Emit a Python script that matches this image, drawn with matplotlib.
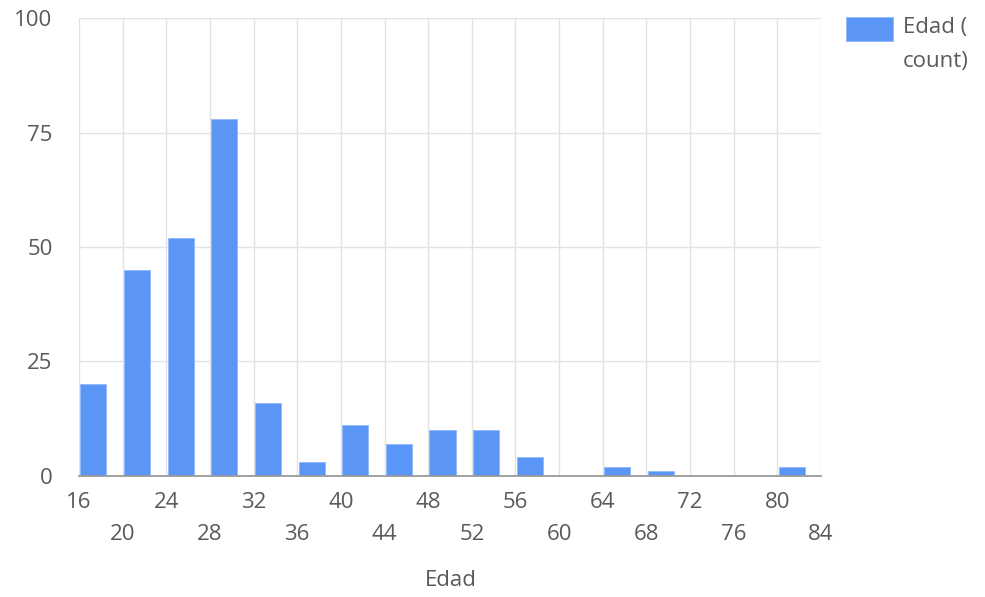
import matplotlib
matplotlib.use("Agg")
import matplotlib.pyplot as plt
import numpy as np

plt.rcParams['font.family'] = ['Open Sans', 'DejaVu Sans']

# Age histogram, bins 4 years wide
bin_edges = [16, 20, 24, 28, 32, 36, 40, 44, 48, 52, 56, 60, 64, 68, 72, 76, 80, 84]
counts    = [20, 45, 52, 78, 16, 3, 11, 7, 10, 10, 4, 0, 2, 1, 0, 0, 2]
y_ticks   = [0, 25, 50, 75, 100]
series_label = "Edad (\ncount)"
x_title = "Edad"

bar_color  = "#5b96f6"
grid_color = "#e2e2e2"
text_color = "#5a5a5a"
fs = 16

fig = plt.figure(figsize=(9.85, 5.97), dpi=100)
ax = fig.add_axes([0.0802, 0.2032, 0.7533, 0.7661])

left = np.array(bin_edges[:-1]) + 0.12
ax.bar(left, counts, width=2.4, align="edge", color=bar_color,
       edgecolor="#8fb8fa", linewidth=0.6, zorder=3)

ax.set_xlim(bin_edges[0], bin_edges[-1])
ax.set_ylim(0, 100)

# grid
ax.set_xticks(bin_edges)
ax.set_yticks(y_ticks)
ax.grid(True, color=grid_color, linewidth=1.0, zorder=0)
ax.tick_params(axis="both", length=0)
ax.set_xticklabels([])
ax.set_yticklabels([str(v) for v in y_ticks], color=text_color, fontsize=fs)
ax.tick_params(axis="y", pad=19)

for side in ["top", "left", "right"]:
    ax.spines[side].set_visible(False)
ax.spines["bottom"].set_color("#9a9a9a")
ax.spines["bottom"].set_linewidth(1.3)
ax.spines["bottom"].set_zorder(4)

# staggered x labels in two rows
for i, edge in enumerate(bin_edges):
    offset = -27 if i % 2 == 0 else -59
    ax.annotate(str(edge), xy=(edge, 0), xycoords=("data", "axes fraction"),
                xytext=(0, offset), textcoords="offset pixels",
                ha="center", va="center", fontsize=fs, color=text_color)

fig.text(0.4574, 1 - 581 / 597, x_title, ha="center", va="center",
         fontsize=fs, color=text_color)

# legend
fig.patches.append(plt.Rectangle((846 / 985, 1 - 41 / 597), 47 / 985, 24 / 597,
                                 transform=fig.transFigure, facecolor=bar_color,
                                 edgecolor="#8fb8fa", linewidth=0.6))
for k, line in enumerate(series_label.split("\n")):
    fig.text(903 / 985, 1 - (28 + 33 * k) / 597, line, ha="left", va="center",
             fontsize=fs, color=text_color)

fig.savefig("out.png", dpi=100)
